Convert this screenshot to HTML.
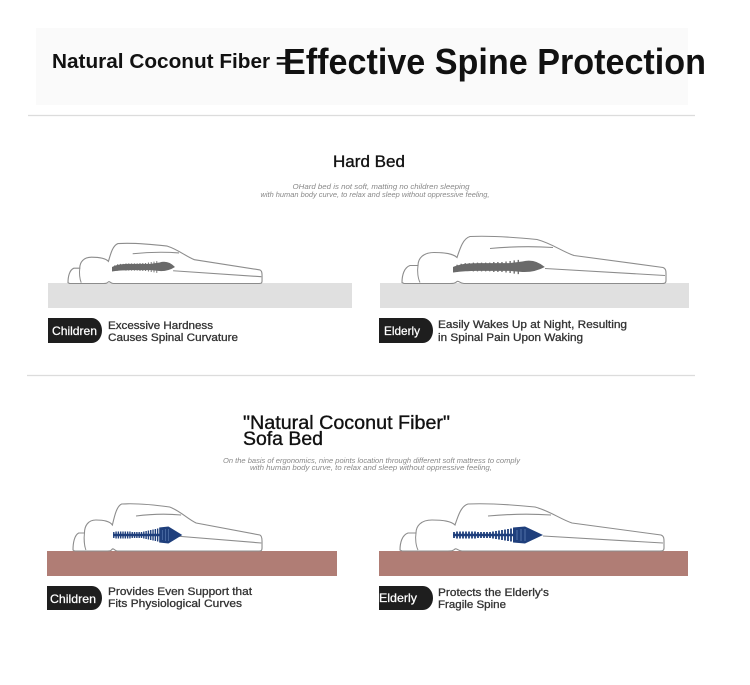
<!DOCTYPE html>
<html><head><meta charset="utf-8"><style>
html,body{margin:0;padding:0;background:#fff;}
svg{display:block;}
text{font-family:"Liberation Sans",Arial,sans-serif;}
</style></head><body>
<svg width="750" height="685" viewBox="0 0 750 685" xmlns="http://www.w3.org/2000/svg">
<defs>
  <g id="body">
    <path d="M0,-1 C0,-8 2,-16 8,-18 L16,-18 C16,-25 21,-31 32,-31 C43,-31 51,-30 55,-26 C58,-35 61,-45 68,-47 C90,-48 115,-46 135,-44 C150,-40 160,-32 172,-28 L261,-16 C264,-15 264,-12 264,-10 L264,-3 C264,0 262,0 260,0 L62,0 C58,0 57,-3 55,-2 C53,0 51,0 48,0 L2,0 Z" fill="#fff" stroke="#8c8c8c" stroke-width="1.1" vector-effect="non-scaling-stroke"/>
    <path d="M88,-35 C110,-37 135,-37 151,-36" fill="none" stroke="#8c8c8c" stroke-width="1.1" vector-effect="non-scaling-stroke"/>
    <path d="M143,-15 L263,-8" fill="none" stroke="#8c8c8c" stroke-width="1.1" vector-effect="non-scaling-stroke"/>
    <path d="M16,-18 C15,-12 16,-5 18,-1" fill="none" stroke="#8c8c8c" stroke-width="1" vector-effect="non-scaling-stroke"/>
  </g>
  <g id="gspine">
    <path d="M0,0 C8,-3 15,-3.5 30,-3.5 L55,-3.5 L68,-5 Q80,-8 90,0 Q80,5 68,4.5 L55,3.5 L30,3.5 C15,3.5 8,4 0,5 Z" fill="#6a6a6a"/>
    <path d="M4,-2 v6 M8,-3 v7 M12,-3.5 v7 M16,-3.5 v7 M20,-4 v8 M24,-4 v8 M28,-4 v8 M32,-4 v8 M36,-4 v8 M40,-4.5 v9 M44,-4.5 v9 M48,-4.5 v9 M52,-5 v10 M56,-5.5 v11 M60,-6 v12 M64,-6.5 v13" stroke="#6a6a6a" stroke-width="1.3"/>
  </g>
  <g id="bspine">
    <path d="M0,0 L62,0" stroke="#1f3f7c" stroke-width="2.5"/>
    <path d="M1,-3 v6 M4,-3.5 v7 M7,-3.5 v7 M10,-3.5 v7 M13,-3.5 v7 M16,-3.5 v7 M19,-3.5 v7 M22,-3.5 v7 M25,-3 v6 M28,-3 v6 M31,-3 v6 M34,-3 v6 M37,-3 v6 M40,-3.5 v7 M43,-4 v8 M46,-4.5 v9 M49,-5 v10 M52,-5.5 v11 M55,-6 v12 M58,-6.5 v13" stroke="#1f3f7c" stroke-width="1.8"/>
    <path d="M60,-7.5 L72,-8.5 L90,0 L72,8.5 L60,7.5 Z" fill="#1f3f7c"/>
    <path d="M64,-5 v10 M68,-6 v12 M72,-6 v12" stroke="#5f7fb5" stroke-width="0.8"/>
  </g>
</defs>

<!-- header -->
<rect x="36" y="28" width="652" height="77" fill="#fafafa"/>
<text x="52" y="68" font-size="20" font-weight="bold" fill="#111" textLength="236" lengthAdjust="spacingAndGlyphs">Natural Coconut Fiber =</text>
<text x="283" y="74" font-size="36" font-weight="bold" fill="#111" textLength="423" lengthAdjust="spacingAndGlyphs">Effective Spine Protection</text>
<line x1="28" y1="115.5" x2="695" y2="115.5" stroke="#dcdcdc" stroke-width="1.2"/>

<!-- hard bed section -->
<text x="333" y="167" font-size="17" fill="#111" stroke="#111" stroke-width="0.35" textLength="72" lengthAdjust="spacingAndGlyphs">Hard Bed</text>
<text x="381" y="189" font-size="7" font-style="italic" fill="#888" text-anchor="middle" textLength="177" lengthAdjust="spacingAndGlyphs">OHard bed is not soft, matting no children sleeping</text>
<text x="375" y="197" font-size="7" font-style="italic" fill="#888" text-anchor="middle" textLength="229" lengthAdjust="spacingAndGlyphs">with human body curve, to relax and sleep without oppressive feeling,</text>

<rect x="48" y="283" width="304" height="25" fill="#e0e0e0"/>
<rect x="380" y="283" width="309" height="25" fill="#e0e0e0"/>
<use href="#body" transform="translate(68,283.5) scale(0.735,0.85)"/>
<use href="#body" transform="translate(402,283.5)"/>
<use href="#gspine" transform="translate(112,267) scale(0.7,0.9)"/>
<use href="#gspine" transform="translate(453,267) scale(1.02,1.1)"/>

<path d="M48,318 H92 A10,12.5 0 0 1 92,343 H48 Z" fill="#1e1e1e"/>
<text x="52" y="335" font-size="12" fill="#fff" stroke="#fff" stroke-width="0.25" textLength="45" lengthAdjust="spacingAndGlyphs">Children</text>
<text x="108" y="329" font-size="11" fill="#333" stroke="#333" stroke-width="0.3" textLength="105" lengthAdjust="spacingAndGlyphs">Excessive Hardness</text>
<text x="108" y="341" font-size="11" fill="#333" stroke="#333" stroke-width="0.3" textLength="130" lengthAdjust="spacingAndGlyphs">Causes Spinal Curvature</text>

<path d="M379,318 H423 A10,12.5 0 0 1 423,343 H379 Z" fill="#1e1e1e"/>
<text x="384" y="335" font-size="12" fill="#fff" stroke="#fff" stroke-width="0.25" textLength="36" lengthAdjust="spacingAndGlyphs">Elderly</text>
<text x="438" y="328" font-size="11" fill="#333" stroke="#333" stroke-width="0.3" textLength="189" lengthAdjust="spacingAndGlyphs">Easily Wakes Up at Night, Resulting</text>
<text x="438" y="341" font-size="11" fill="#333" stroke="#333" stroke-width="0.3" textLength="145" lengthAdjust="spacingAndGlyphs">in Spinal Pain Upon Waking</text>

<line x1="27" y1="375.5" x2="695" y2="375.5" stroke="#dcdcdc" stroke-width="1.2"/>

<!-- sofa bed section -->
<text x="243" y="429" font-size="19.5" fill="#111" stroke="#111" stroke-width="0.35" textLength="207" lengthAdjust="spacingAndGlyphs">"Natural Coconut Fiber"</text>
<text x="243" y="445" font-size="19.5" fill="#111" stroke="#111" stroke-width="0.35" textLength="80" lengthAdjust="spacingAndGlyphs">Sofa Bed</text>
<text x="223" y="463" font-size="7" font-style="italic" fill="#888" textLength="297" lengthAdjust="spacingAndGlyphs">On the basis of ergonomics, nine points location through different soft mattress to comply</text>
<text x="250" y="470" font-size="7" font-style="italic" fill="#888" textLength="242" lengthAdjust="spacingAndGlyphs">with human body curve, to relax and sleep without oppressive feeling,</text>

<rect x="47" y="551" width="290" height="25" fill="#b07d75"/>
<rect x="379" y="551" width="309" height="25" fill="#b07d75"/>
<use href="#body" transform="translate(73,551) scale(0.716,1)"/>
<use href="#body" transform="translate(400,551)"/>
<use href="#bspine" transform="translate(113,535) scale(0.77,1)"/>
<use href="#bspine" transform="translate(453,535)"/>

<path d="M47,586 H92 A10,12 0 0 1 92,610 H47 Z" fill="#1e1e1e"/>
<text x="50" y="603" font-size="12" fill="#fff" stroke="#fff" stroke-width="0.25" textLength="46" lengthAdjust="spacingAndGlyphs">Children</text>
<text x="108" y="595" font-size="11" fill="#333" stroke="#333" stroke-width="0.3" textLength="144" lengthAdjust="spacingAndGlyphs">Provides Even Support that</text>
<text x="108" y="607" font-size="11" fill="#333" stroke="#333" stroke-width="0.3" textLength="134" lengthAdjust="spacingAndGlyphs">Fits Physiological Curves</text>

<path d="M379,586 H423 A10,12 0 0 1 423,610 H379 Z" fill="#1e1e1e"/>
<text x="379" y="602" font-size="12" fill="#fff" stroke="#fff" stroke-width="0.25" textLength="38" lengthAdjust="spacingAndGlyphs">Elderly</text>
<text x="438" y="596" font-size="11" fill="#333" stroke="#333" stroke-width="0.3" textLength="111" lengthAdjust="spacingAndGlyphs">Protects the Elderly's</text>
<text x="438" y="608" font-size="11" fill="#333" stroke="#333" stroke-width="0.3" textLength="68" lengthAdjust="spacingAndGlyphs">Fragile Spine</text>
</svg>
</body></html>
